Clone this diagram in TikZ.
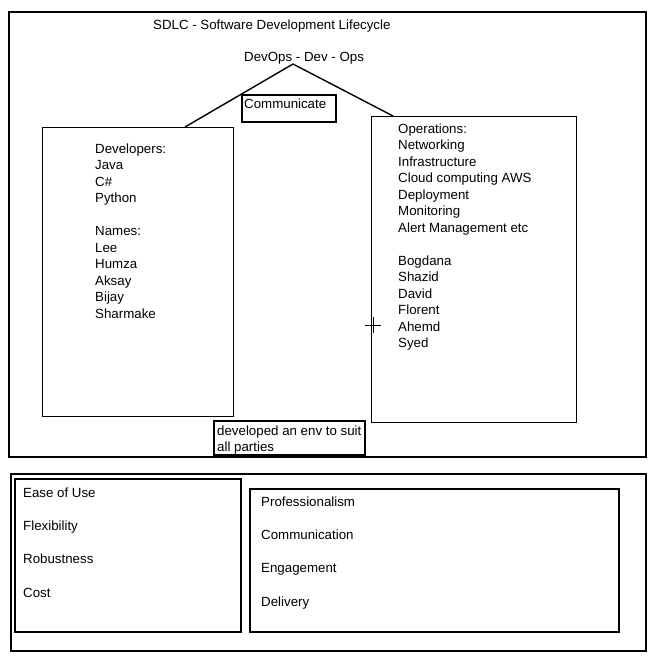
\documentclass[tikz,border=0pt]{standalone}
\usepackage{fontspec}
\setmainfont{Liberation Sans}
\usetikzlibrary{calc}
\tikzset{
  frame/.style={draw=black, line width=1.7pt, anchor=north west, inner sep=0pt},
  thinbox/.style={draw=black, line width=1pt, anchor=north west, inner sep=0pt},
  txt/.style={anchor=north west, inner sep=0pt, align=left, font=\fontsize{13.3pt}{16.5pt}\selectfont},
  conn/.style={draw=black, line width=1.4pt}
}
\begin{document}
\begin{tikzpicture}[x=1pt,y=-1pt]
\useasboundingbox (0,0) rectangle (658,665);
% outer frames
\node (top) [frame, minimum width=637pt, minimum height=445pt] at (8,11) {};
\node (bot) [frame, minimum width=635pt, minimum height=177pt] at (10,473) {};
% titles
\node (sdlc) [txt] at (153,19.5) {SDLC - Software Development Lifecycle};
\node (devops) [txt] at (244,52.5) {DevOps - Dev - Ops};
\coordinate (apex) at (293,64);
% developers box
\node (dev) [thinbox, minimum width=191pt, minimum height=289pt] at (42,127) {};
\node (devtxt) [txt] at (95,143.5) {Developers:\\Java\\C\#\\Python\\[16.5pt]Names:\\Lee\\Humza\\Aksay\\Bijay\\Sharmake};
% operations box
\node (ops) [thinbox, minimum width=205pt, minimum height=306pt] at (371,116) {};
\node (opstxt) [txt] at (398,123.5) {Operations:\\Networking\\Infrastructure\\Cloud computing AWS\\Deployment\\Monitoring\\Alert Management etc\\[16.5pt]Bogdana\\Shazid\\David\\Florent\\Ahemd\\Syed};
% connectors
\coordinate (devtop) at ($(dev.north west)+(143,0)$);
\coordinate (opstop) at ($(ops.north west)+(22,0)$);
\draw[conn] (apex) -- (devtop);
\draw[conn] (apex) -- (opstop);
% communicate
\node (comm) [frame, minimum width=94pt, minimum height=27pt] at (241,94) {};
\node (commtxt) [txt] at (244,98.5) {Communicate};
% developed env
\node (env) [frame, minimum width=151pt, minimum height=34pt] at (213,420) {};
\node (envtxt) [txt] at (217,425.5) {developed an env to suit\\all parties};
% cursor mark
\draw[line width=0.8pt] (365,325) -- (381,325);
\draw[line width=0.8pt] (373,317) -- (373,333);
% bottom boxes
\node (bl) [frame, minimum width=226pt, minimum height=153pt] at (14,478) {};
\node (bltxt) [txt] at (23,487.5) {Ease of Use\\[16.8pt]Flexibility\\[16.8pt]Robustness\\[16.8pt]Cost};
\node (br) [frame, minimum width=369pt, minimum height=143pt] at (249,488) {};
\node (brtxt) [txt] at (261,496.5) {Professionalism\\[16.8pt]Communication\\[16.8pt]Engagement\\[16.8pt]Delivery};
\end{tikzpicture}
\end{document}
